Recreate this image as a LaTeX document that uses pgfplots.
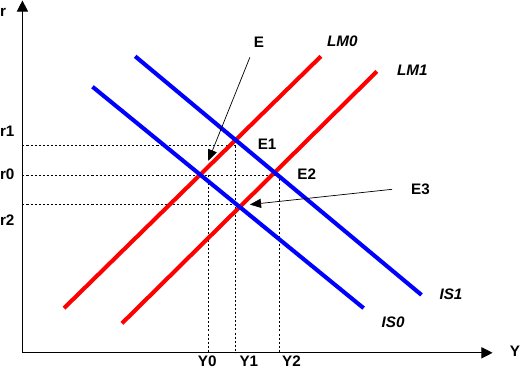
\documentclass[border=0pt]{standalone}
\usepackage{pgfplots}
\pgfplotsset{compat=1.18}
\usepackage{fontspec}
\setmainfont{Liberation Sans}
\usetikzlibrary{arrows.meta}
\begin{document}
\begin{tikzpicture}
\begin{axis}[
  width=520pt, height=375pt, scale only axis,
  xmin=0, xmax=520, ymin=0, ymax=375,
  hide axis, clip=false,
]
% axes
\addplot[black, line width=0.9pt, -{Triangle[width=11pt,length=11pt]}] coordinates {(24,26) (487,26)};
\addplot[black, line width=0.9pt, -{Triangle[width=11pt,length=11pt]}] coordinates {(24,26) (24,373)};
% dashed guides
\addplot[black, line width=0.8pt, dash pattern=on 2pt off 2pt] coordinates {(24,230) (234,230)};
\addplot[black, line width=0.8pt, dash pattern=on 2pt off 2pt] coordinates {(24,201) (277,201)};
\addplot[black, line width=0.8pt, dash pattern=on 2pt off 2pt] coordinates {(24,172) (238,172)};
\addplot[black, line width=0.8pt, dash pattern=on 2pt off 2pt] coordinates {(207,201) (207,26)};
\addplot[black, line width=0.8pt, dash pattern=on 2pt off 2pt] coordinates {(234,230) (234,26)};
\addplot[black, line width=0.8pt, dash pattern=on 2pt off 2pt] coordinates {(277,201) (277,26)};
% curves
\addplot[red, line width=4pt] coordinates {(65,70) (318,318)};
\addplot[red, line width=4pt] coordinates {(122,55) (373,303)};
\addplot[blue, line width=4pt] coordinates {(135,318) (417,83)};
\addplot[blue, line width=4pt] coordinates {(93,288) (360,70)};
% pointer arrows
\addplot[black, line width=0.7pt, -{Triangle[width=9pt,length=11pt]}] coordinates {(248,317) (207,215)};
\addplot[black, line width=0.7pt, -{Triangle[width=9pt,length=11pt]}] coordinates {(388,187) (248,172)};
% labels
\begin{scope}[every node/.style={font=\fontsize{15}{16}\selectfont\bfseries, inner sep=0pt}]
\node at (axis cs:5,361) {r};
\node at (axis cs:9,244) {r1};
\node at (axis cs:9,202) {r0};
\node at (axis cs:9,157) {r2};
\node at (axis cs:206,18) {Y0};
\node at (axis cs:247,18) {Y1};
\node at (axis cs:289,18) {Y2};
\node at (axis cs:509,28) {Y};
\node at (axis cs:257,332) {E};
\node at (axis cs:265,231) {E1};
\node at (axis cs:304,202) {E2};
\node at (axis cs:416,187) {E3};
\node[font=\fontsize{15}{16}\selectfont\bfseries\itshape] at (axis cs:339,333) {LM0};
\node[font=\fontsize{15}{16}\selectfont\bfseries\itshape] at (axis cs:408,304) {LM1};
\node[font=\fontsize{15}{16}\selectfont\bfseries\itshape] at (axis cs:446,84) {IS1};
\node[font=\fontsize{15}{16}\selectfont\bfseries\itshape] at (axis cs:389,56) {IS0};
\end{scope}
\end{axis}
\end{tikzpicture}
\end{document}
